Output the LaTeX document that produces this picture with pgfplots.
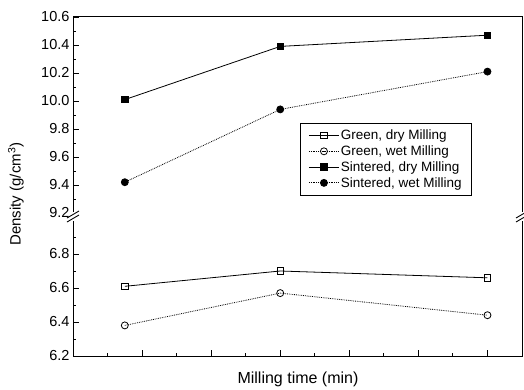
\documentclass[border=0pt]{standalone}
\usepackage{fontspec}
\setmainfont{Liberation Sans}
\usepackage{pgfplots}
\pgfplotsset{compat=1.18}
\begin{document}
\begin{tikzpicture}[x=1pt,y=1pt]
\useasboundingbox (0,0) rectangle (524,389);
\pgfplotsset{
  common/.style={
    scale only axis, width=449pt, xmin=0, xmax=6.5,
    axis line style={line width=1pt},
    tick align=inside, ytick pos=left,
    major tick length=6pt, minor tick length=3pt,
    every tick/.style={black, line width=0.9pt},
    tick label style={font=\fontsize{14.5}{16}\selectfont},
    /pgf/number format/assume math mode=true,
    yticklabel style={/pgf/number format/.cd, fixed, fixed zerofill, precision=1},
    clip=false,
  },
  gdry/.style={black, line width=0.8pt, mark=square, mark size=3.3pt, mark options={solid, fill=white}},
  gwet/.style={black, line width=0.8pt, densely dotted, mark=o, mark size=3.5pt, mark options={solid, fill=white}},
  sdry/.style={black, line width=0.8pt, mark=square*, mark size=3.2pt, mark options={solid}},
  swet/.style={black, line width=0.8pt, densely dotted, mark=*, mark size=3.5pt, mark options={solid}},
}
% upper segment
\begin{axis}[common, at={(73pt,176pt)}, anchor=south west, height=196pt,
  ymin=9.2, ymax=10.6, ytick={9.2,9.4,...,10.61}, minor y tick num=1,
  xtick=\empty,
  legend style={at={(rel axis cs:0.506,0.459)}, anchor=north west,
    font=\fontsize{13.5}{15}\selectfont, draw=black, line width=0.7pt,
    inner xsep=8pt, inner ysep=5pt, row sep=1.5pt,
    nodes={inner sep=1.5pt}},
  legend cell align=left,
  legend image code/.code={\draw[mark repeat=2, mark phase=2] plot coordinates {(0pt,0pt) (15pt,0pt) (30pt,0pt)};},
]
\addlegendimage{gdry}
\addlegendimage{gwet}
\addplot[sdry] coordinates {(0.75,10.01) (3,10.39) (6,10.47)};
\addplot[swet] coordinates {(0.75,9.42) (3,9.94) (6,10.21)};
\legend{{Green, dry Milling}, {Green, wet Milling}, {Sintered, dry Milling}, {Sintered, wet Milling}}
\end{axis}
% lower segment
\begin{axis}[common, at={(73pt,33pt)}, anchor=south west, height=136pt,
  ymin=6.2, ymax=7.0, ytick={6.2,6.4,6.6,6.8}, minor ytick={6.3,6.5,6.7,6.9},
  xtick={1,2,3,4,5,6}, minor xtick={0.5,1.5,2.5,3.5,4.5,5.5}, xticklabels=\empty,
  xtick pos=left,
]
\addplot[gdry] coordinates {(0.75,6.61) (3,6.70) (6,6.66)};
\addplot[gwet] coordinates {(0.75,6.38) (3,6.57) (6,6.44)};
\end{axis}
% axis break
\fill[white] (70,168.3) rectangle (526,176.7);
\draw[line width=0.9pt] (67,167) -- (79,174);
\draw[line width=0.9pt] (67,171) -- (79,178);
\draw[line width=0.9pt] (516,167) -- (528,174);
\draw[line width=0.9pt] (516,171) -- (528,178);
\node[rotate=90, font=\fontsize{15}{17}\selectfont] at (16,195) {Density (g/cm\textsuperscript{3})};
\node[font=\fontsize{16}{18}\selectfont] at (298,10) {Milling time (min)};
\end{tikzpicture}
\end{document}
